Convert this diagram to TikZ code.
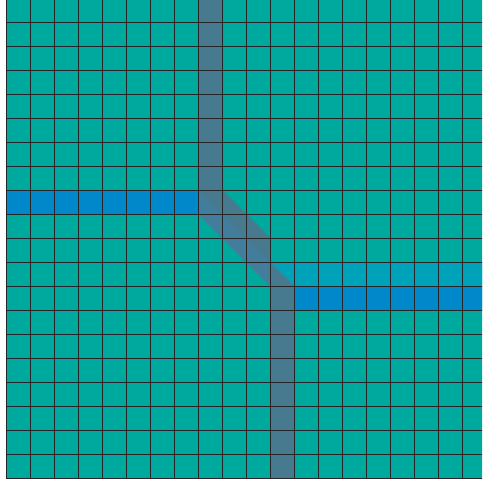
\documentclass[tikz,border=0pt]{standalone}
\usepackage{tikz}

\definecolor{gridteal}{HTML}{00A99D}
\definecolor{laneblue}{HTML}{0088CB}
\definecolor{lanelight}{HTML}{00A2B9}
\definecolor{pathslate}{HTML}{47798F}
\definecolor{pathtint}{HTML}{427E9B}
\definecolor{gridline}{HTML}{262626}

\begin{document}
\begin{tikzpicture}[x=0.05cm, y=-0.05cm, cell/.style={draw=gridline, line width=1.1pt}]
  \clip (0,0) rectangle (482,483);
  % base grid
  \fill[gridteal] (6,-2) rectangle (486,478);
  % lanes
  \fill[laneblue] (6,190) rectangle (198,214);
  \fill[laneblue] (294,286) rectangle (486,310);
  \fill[lanelight] (270,262) -- (486,262) -- (486,286) -- (294,286) -- cycle;
  % crossing path
  \fill[pathslate] (198,-2) -- (222,-2) -- (222,190) -- (270,238) -- (270,262)
    -- (294,286) -- (294,478) -- (270,478) -- (270,286) -- (198,214) -- cycle;
  \fill[pathtint] (198,190) -- (270,262) -- (270,286) -- (198,214) -- cycle;
  % cell lines
  \foreach \i in {0,...,20} {
    \draw[cell] (6+24*\i,-2) -- (6+24*\i,478);
    \draw[cell] (6,478-24*\i) -- (486,478-24*\i);
  }
\end{tikzpicture}
\end{document}
